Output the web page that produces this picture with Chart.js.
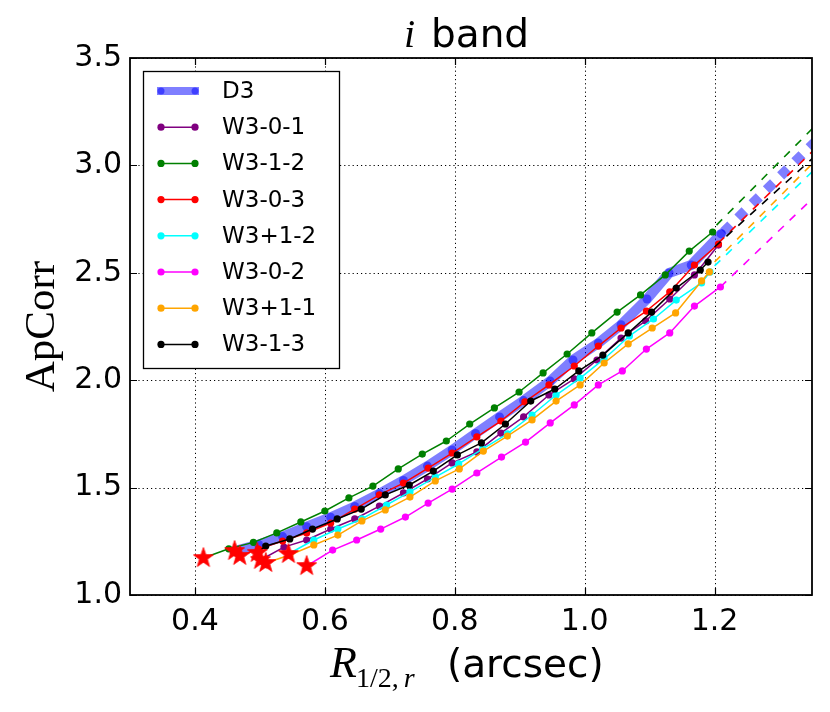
<!DOCTYPE html>
<html>
<head>
<meta charset="utf-8">
<script src="https://cdn.jsdelivr.net/npm/chart.js@4.4.0/dist/chart.umd.min.js"></script>
<style>
html,body{margin:0;padding:0;background:#ffffff;}
#wrap{width:830px;height:712px;}
</style>
</head>
<body>
<div id="wrap"><canvas id="c" width="830" height="712"></canvas></div>
<script>
// ---- axis ticks ----
const xTicks = [0.4, 0.6, 0.8, 1.0, 1.2];
const yTicks = [1.0, 1.5, 2.0, 2.5, 3.0, 3.5];

// ---- series names & colours ----
const seriesNames = ['D3', 'W3-0-1', 'W3-1-2', 'W3-0-3', 'W3+1-2', 'W3-0-2', 'W3+1-1', 'W3-1-3'];
const seriesColors = ['rgba(0,0,255,0.5)', '#800080', '#008000', '#ff0000', '#00ffff', '#ff00ff', '#ffa500', '#000000'];

// ---- measured curves: R_{1/2,r} (arcsec) and ApCorr ----
const d3R = [0.461,0.498,0.535,0.572,0.609,0.646,0.684,0.721,0.758,0.796,0.832,0.869,0.906,0.947,0.982,1.021,1.056,1.096,1.130,1.164,1.210];
const d3A = [1.205,1.235,1.272,1.318,1.362,1.412,1.472,1.533,1.600,1.675,1.752,1.829,1.905,1.996,2.094,2.173,2.258,2.378,2.499,2.536,2.681];

const w301R = [0.501,0.537,0.572,0.609,0.646,0.684,0.721,0.758,0.796,0.834,0.871,0.906,0.945,0.984,1.019,1.056,1.094,1.131,1.169,1.206];
const w301A = [1.163,1.223,1.256,1.307,1.354,1.414,1.475,1.540,1.615,1.666,1.754,1.829,1.931,2.006,2.094,2.196,2.276,2.378,2.490,2.629];

const w312R = [0.413,0.452,0.490,0.526,0.563,0.600,0.637,0.674,0.713,0.750,0.787,0.823,0.861,0.899,0.936,0.973,1.011,1.050,1.086,1.124,1.161,1.197];
const w312A = [1.172,1.215,1.245,1.289,1.340,1.391,1.452,1.507,1.587,1.656,1.717,1.796,1.871,1.945,2.034,2.122,2.220,2.317,2.397,2.490,2.601,2.690];

const w303R = [0.469,0.498,0.535,0.572,0.609,0.646,0.684,0.721,0.759,0.796,0.834,0.871,0.908,0.945,0.984,1.021,1.056,1.095,1.131,1.169,1.206];
const w303A = [1.182,1.214,1.251,1.289,1.335,1.400,1.466,1.521,1.591,1.661,1.736,1.810,1.899,1.978,2.066,2.159,2.243,2.322,2.411,2.536,2.634];

const wp12R = [0.544,0.583,0.620,0.657,0.695,0.731,0.770,0.806,0.843,0.881,0.919,0.956,0.993,1.030,1.069,1.106,1.141,1.180,1.193];
const wp12A = [1.191,1.256,1.307,1.354,1.419,1.480,1.549,1.610,1.680,1.750,1.838,1.931,2.010,2.099,2.206,2.285,2.373,2.453,2.504];

const w302R = [0.572,0.612,0.649,0.686,0.724,0.759,0.796,0.834,0.872,0.909,0.947,0.984,1.021,1.058,1.095,1.131,1.169,1.209];
const w302A = [1.135,1.209,1.256,1.307,1.363,1.428,1.493,1.568,1.642,1.712,1.801,1.885,1.978,2.043,2.145,2.220,2.345,2.434];

const wp11R = [0.509,0.546,0.583,0.620,0.657,0.693,0.731,0.770,0.807,0.844,0.881,0.919,0.956,0.993,1.030,1.067,1.104,1.140,1.180,1.192];
const wp11A = [1.149,1.186,1.233,1.279,1.345,1.396,1.456,1.531,1.587,1.670,1.740,1.815,1.903,1.978,2.080,2.169,2.243,2.313,2.462,2.504];

const w313R = [0.496,0.509,0.546,0.581,0.619,0.656,0.693,0.730,0.767,0.804,0.841,0.878,0.917,0.954,0.991,1.028,1.067,1.103,1.141,1.178,1.190];
const w313A = [1.196,1.228,1.261,1.307,1.354,1.400,1.466,1.512,1.577,1.652,1.708,1.796,1.903,1.959,2.043,2.117,2.220,2.317,2.429,2.513,2.550];

// ---- extrapolated (dashed) extensions: [start, end] ----
const d3ExtR   = [1.214, 1.36];
const d3ExtA   = [2.690, 3.125];
const w312ExtR = [1.203, 1.36];
const w312ExtA = [2.722, 3.200];
const w303ExtR = [1.206, 1.36];
const w303ExtA = [2.639, 3.093];
const wp12ExtR = [1.200, 1.36];
const wp12ExtA = [2.532, 2.999];
const w302ExtR = [1.209, 1.36];
const w302ExtA = [2.434, 2.873];
const wp11ExtR = [1.200, 1.36];
const wp11ExtA = [2.550, 3.037];
const w313ExtR = [1.200, 1.36];
const w313ExtA = [2.620, 3.058];

// ---- first (smallest-aperture) points marked by stars ----
const starR = [0.413, 0.461, 0.469, 0.496, 0.501, 0.509, 0.544, 0.572];
const starA = [1.172, 1.205, 1.182, 1.196, 1.163, 1.149, 1.191, 1.135];

function pts(R, A) { return R.map((r, i) => ({x: r, y: A[i]})); }

function makeStar() {
  const s = 26, c = document.createElement('canvas');
  c.width = s; c.height = s;
  const g = c.getContext('2d');
  const R = 10.5, r = 4.2;
  g.beginPath();
  for (let k = 0; k < 10; k++) {
    const ang = -Math.PI / 2 + k * Math.PI / 5;
    const rad = (k % 2) ? r : R;
    g.lineTo(s / 2 + rad * Math.cos(ang), s / 2 + rad * Math.sin(ang));
  }
  g.closePath();
  g.fillStyle = '#ff0000'; g.fill();
  g.strokeStyle = '#ff0000'; g.lineWidth = 0.8; g.stroke();
  return c;
}
const starImg = makeStar();

const solidR = [d3R, w301R, w312R, w303R, wp12R, w302R, wp11R, w313R];
const solidA = [d3A, w301A, w312A, w303A, wp12A, w302A, wp11A, w313A];

const datasets = [];
seriesNames.forEach((name, i) => {
  const isD3 = i === 0;
  datasets.push({
    label: name,
    data: pts(solidR[i], solidA[i]),
    borderColor: seriesColors[i],
    backgroundColor: seriesColors[i],
    pointBackgroundColor: seriesColors[i],
    pointBorderWidth: 0,
    pointRadius: isD3 ? 4.5 : 3.6,
    borderWidth: isD3 ? 10 : 1.5,
    borderJoinStyle: 'round',
    borderCapStyle: isD3 ? 'round' : 'butt',
    tension: 0,
    order: 30 - i
  });
});
const extList = [
  [d3ExtR, d3ExtA, seriesColors[0], 10, [10, 10]],
  [w312ExtR, w312ExtA, seriesColors[2], 1.6, [8, 8]],
  [w303ExtR, w303ExtA, seriesColors[3], 1.6, [8, 8]],
  [wp12ExtR, wp12ExtA, seriesColors[4], 1.6, [8, 8]],
  [w302ExtR, w302ExtA, seriesColors[5], 1.6, [8, 8]],
  [wp11ExtR, wp11ExtA, seriesColors[6], 1.6, [8, 8]],
  [w313ExtR, w313ExtA, seriesColors[7], 1.6, [8, 8]]
];
extList.forEach((e, j) => {
  datasets.push({
    label: 'ext' + j,
    data: pts(e[0], e[1]),
    borderColor: e[2],
    borderWidth: e[3],
    borderDash: e[4],
    borderCapStyle: 'butt',
    pointRadius: 0,
    tension: 0,
    order: 15 - j
  });
});
datasets.push({
  label: 'first',
  data: pts(starR, starA),
  showLine: false,
  pointStyle: starImg,
  pointRadius: 10,
  order: 0
});

const decor = {
  id: 'decor',
  beforeDatasetsDraw(chart) {
    const {ctx, chartArea: a, scales: {x, y}} = chart;
    ctx.save();
    ctx.strokeStyle = '#000';
    ctx.lineWidth = 1;
    ctx.setLineDash([1.2, 3]);
    xTicks.forEach(v => {
      const px = Math.round(x.getPixelForValue(v)) + 0.5;
      ctx.beginPath(); ctx.moveTo(px, a.top); ctx.lineTo(px, a.bottom); ctx.stroke();
    });
    yTicks.forEach(v => {
      const py = Math.round(y.getPixelForValue(v)) + 0.5;
      ctx.beginPath(); ctx.moveTo(a.left, py); ctx.lineTo(a.right, py); ctx.stroke();
    });
    ctx.restore();
  },
  afterDraw(chart) {
    const {ctx, chartArea: a, scales: {x, y}} = chart;
    ctx.save();
    ctx.strokeStyle = '#000'; ctx.lineWidth = 1.2; ctx.setLineDash([]);
    const tl = 7;
    xTicks.forEach(v => {
      const px = Math.round(x.getPixelForValue(v)) + 0.5;
      ctx.beginPath();
      ctx.moveTo(px, a.bottom); ctx.lineTo(px, a.bottom - tl);
      ctx.moveTo(px, a.top); ctx.lineTo(px, a.top + tl);
      ctx.stroke();
    });
    yTicks.forEach(v => {
      const py = Math.round(y.getPixelForValue(v)) + 0.5;
      ctx.beginPath();
      ctx.moveTo(a.left, py); ctx.lineTo(a.left + tl, py);
      ctx.moveTo(a.right, py); ctx.lineTo(a.right - tl, py);
      ctx.stroke();
    });
    ctx.lineWidth = 1.8;
    ctx.strokeRect(a.left, a.top, a.right - a.left, a.bottom - a.top);

    // legend
    const lx = 143, ly = 71, lw = 196, lh = 297;
    ctx.fillStyle = '#fff';
    ctx.fillRect(lx, ly, lw, lh);
    ctx.lineWidth = 1.3; ctx.strokeStyle = '#000';
    ctx.strokeRect(lx + 0.5, ly + 0.5, lw, lh);
    ctx.font = '23px "DejaVu Sans"';
    ctx.textBaseline = 'middle';
    ctx.textAlign = 'left';
    seriesNames.forEach((name, i) => {
      const yy = 91 + i * 36.2;
      const col = seriesColors[i];
      ctx.strokeStyle = col; ctx.fillStyle = col;
      if (i === 0) {
        ctx.lineWidth = 8; ctx.lineCap = 'butt';
        ctx.beginPath(); ctx.moveTo(157, yy); ctx.lineTo(199, yy); ctx.stroke();
        [161, 195].forEach(px => { ctx.beginPath(); ctx.arc(px, yy, 3.5, 0, Math.PI * 2); ctx.fill(); });
      } else {
        ctx.lineWidth = 1.5;
        ctx.beginPath(); ctx.moveTo(161, yy); ctx.lineTo(195, yy); ctx.stroke();
        [161, 195].forEach(px => { ctx.beginPath(); ctx.arc(px, yy, 3.6, 0, Math.PI * 2); ctx.fill(); });
      }
      ctx.fillStyle = '#000';
      ctx.fillText(name, 222, yy + 1);
    });

    // title: "i band"
    const cx = (a.left + a.right) / 2;
    ctx.fillStyle = '#000';
    ctx.textBaseline = 'alphabetic';
    ctx.textAlign = 'left';
    ctx.font = 'italic 40px "Liberation Serif"';
    ctx.fillText('i', cx - 67, 47);
    ctx.font = '39px "DejaVu Sans"';
    ctx.fillText('band', cx - 40, 47);

    // x label: R_{1/2,r} (arcsec)
    const by = 677;
    ctx.font = 'italic 44px "Liberation Serif"';
    ctx.fillText('R', cx - 141, by);
    ctx.font = '28px "Liberation Serif"';
    ctx.fillText('1/2,', cx - 115, by + 10);
    const wSub = ctx.measureText('1/2,').width;
    ctx.font = 'italic 28px "Liberation Serif"';
    ctx.fillText('r', cx - 115 + wSub + 5, by + 10);
    ctx.font = '39px "DejaVu Sans"';
    ctx.fillText('(arcsec)', cx - 24, by);

    // y label
    ctx.save();
    ctx.translate(54, (a.top + a.bottom) / 2);
    ctx.rotate(-Math.PI / 2);
    ctx.font = '43px "Liberation Serif"';
    ctx.textAlign = 'center';
    ctx.textBaseline = 'alphabetic';
    ctx.fillText('ApCorr', 0, 0);
    ctx.restore();

    ctx.restore();
  }
};

new Chart(document.getElementById('c'), {
  type: 'line',
  data: {datasets},
  options: {
    responsive: false,
    animation: false,
    devicePixelRatio: 1,
    layout: {padding: {left: 0, right: 18, top: 58, bottom: 0}},
    plugins: {legend: {display: false}, tooltip: {enabled: false}, title: {display: false}},
    scales: {
      x: {
        type: 'linear', min: 0.3, max: 1.35,
        afterBuildTicks: s => { s.ticks = xTicks.map(v => ({value: v})); },
        afterFit: s => { s.height = 117; },
        grid: {display: false, drawTicks: false},
        border: {display: false},
        ticks: {font: {family: 'DejaVu Sans', size: 30}, color: '#000', padding: 9,
                callback: v => Number(v).toFixed(1)}
      },
      y: {
        type: 'linear', min: 1.0, max: 3.5,
        afterBuildTicks: s => { s.ticks = yTicks.map(v => ({value: v})); },
        afterFit: s => { s.width = 130; },
        grid: {display: false, drawTicks: false},
        border: {display: false},
        ticks: {font: {family: 'DejaVu Sans', size: 30}, color: '#000', padding: 8,
                callback: v => Number(v).toFixed(1)}
      }
    }
  },
  plugins: [decor]
});
</script>
</body>
</html>
